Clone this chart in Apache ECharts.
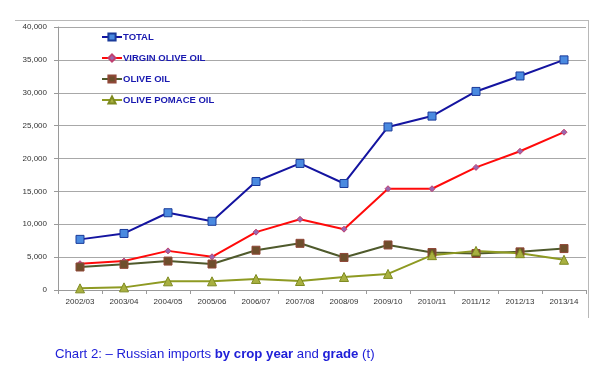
<!DOCTYPE html>
<html><head><meta charset="utf-8">
<script src="https://cdn.jsdelivr.net/npm/echarts@6/dist/echarts.min.js"></script>
<style>html,body{margin:0;padding:0;background:#fff}#c{width:600px;height:368px}</style>
</head><body><div id="c"></div>
<script>
const categories = ['2002/03','2003/04','2004/05','2005/06','2006/07','2007/08','2008/09','2009/10','2010/11','2011/12','2012/13','2013/14'];
const total = [7700,8600,11750,10450,16500,19250,16200,24800,26450,30200,32550,35000];
const virginOliveOil = [4000,4400,5950,5050,8800,10750,9250,15400,15400,18650,21100,24000];
const oliveOil = [3500,3900,4400,3950,6050,7100,4950,6850,5700,5550,5800,6300];
const olivePomaceOil = [250,400,1320,1320,1680,1370,1980,2450,5300,5950,5600,4600];
const yTicks = [0,5000,10000,15000,20000,25000,30000,35000,40000];

const chart = echarts.init(document.getElementById('c'));
const mk = (name, data, lineColor, symbol, size, fill, border) => ({
  name, type:'line', data, symbol, symbolSize:size,
  lineStyle:{color:lineColor,width:2},
  itemStyle:{color:fill,borderColor:border,borderWidth:1},
  emphasis:{disabled:true}
});
chart.setOption({
  animation:false,
  textStyle:{fontFamily:'Liberation Sans, Arial, sans-serif'},
  grid:{left:58,right:14,top:27,bottom:78},
  legend:{
    orient:'vertical', left:96, top:27, itemGap:11, itemWidth:20, itemHeight:9,
    textStyle:{color:'#1a1ab0',fontWeight:'bold',fontSize:9.5,padding:[0,0,0,-4],
      fontFamily:'Liberation Sans Narrow, Liberation Sans, sans-serif'},
    data:['TOTAL','VIRGIN OLIVE OIL','OLIVE OIL','OLIVE POMACE OIL']
  },
  xAxis:{
    type:'category', data:categories, boundaryGap:true,
    axisLine:{lineStyle:{color:'#9a9a9a'}},
    axisTick:{show:true,lineStyle:{color:'#9a9a9a'},length:4},
    axisLabel:{color:'#333',fontSize:8,margin:8}
  },
  yAxis:{
    type:'value', min:0, max:40000, interval:5000,
    axisLine:{show:true,lineStyle:{color:'#9a9a9a'}},
    axisTick:{show:true,lineStyle:{color:'#9a9a9a'},length:4},
    splitLine:{lineStyle:{color:'#a8a8a8',width:1}},
    axisLabel:{color:'#333',fontSize:8,margin:11,
      formatter:v=>yTicks.includes(v)?v.toLocaleString('en-US'):''}
  },
  graphic:[
    {type:'line',shape:{x1:15,y1:20.5,x2:588.5,y2:20.5},style:{stroke:'#b8b8b8',lineWidth:1}},
    {type:'line',shape:{x1:588.5,y1:20,x2:588.5,y2:318},style:{stroke:'#b8b8b8',lineWidth:1}},
    {type:'text',left:55,top:348,style:{
      text:'{n|Chart 2: – Russian imports }{b|by crop year}{n| and }{b|grade}{n| (t)}',
      rich:{
        n:{fill:'#2020d8',fontSize:13.2,fontFamily:'Liberation Sans, Arial, sans-serif'},
        b:{fill:'#2020d8',fontSize:13.2,fontWeight:'bold',fontFamily:'Liberation Sans, Arial, sans-serif'}
      }}}
  ],
  series:[
    mk('TOTAL', total, '#1414a0', 'rect', 8, '#4a8ae0', '#1a3a9a'),
    mk('VIRGIN OLIVE OIL', virginOliveOil, '#ff0a0a', 'diamond', 6, '#9868b0', '#c04070'),
    mk('OLIVE OIL', oliveOil, '#4f5a2c', 'rect', 8, '#6e4e2c', '#904838'),
    mk('OLIVE POMACE OIL', olivePomaceOil, '#8e9a22', 'triangle', 9, '#a8b040', '#7e8a20')
  ]
});
</script></body></html>
